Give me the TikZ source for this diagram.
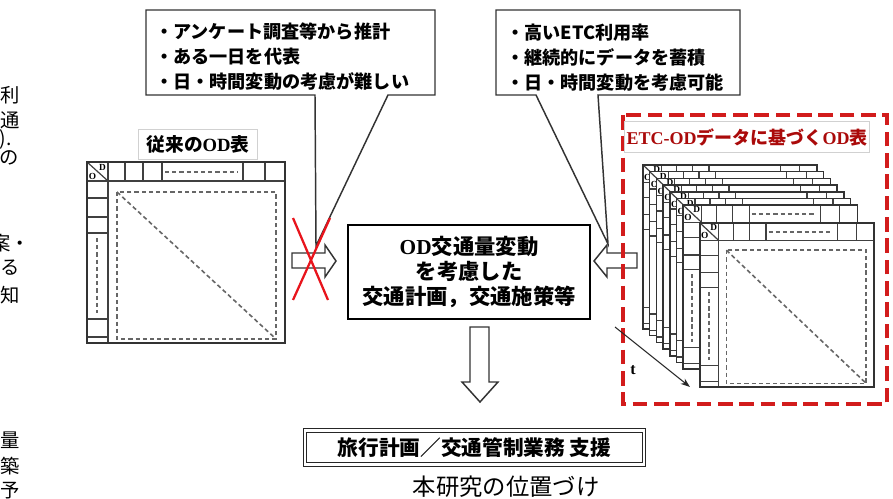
\documentclass[tikz,border=0pt]{standalone}
\usepackage{fontspec}
\newfontfamily\jp{Noto Sans CJK JP}
\newfontfamily\ser{Liberation Serif}
\usetikzlibrary{arrows.meta}
\newcommand\calloutfont{\jp\bfseries\fontsize{13.6pt}{18.75pt}\selectfont}
\newcommand\mainfont{\jp\bfseries\fontsize{16pt}{18.4pt}\selectfont}
\newcommand\marginfont{\jp\fontsize{14.5pt}{14.5pt}\selectfont}
\definecolor{xred}{RGB}{232,20,28}
\definecolor{boxred}{RGB}{210,28,28}
\definecolor{lblred}{RGB}{170,10,10}
\tikzset{
  tl/.style={draw=black!75,line width=0.9pt},
  dsh/.style={draw=black!60,line width=1.2pt,dash pattern=on 3.2pt off 2.2pt},
  bx/.style={draw=black!80,line width=1.1pt,fill=white,line join=miter},
  lbl/.style={draw=black!18,line width=0.6pt,fill=white,inner sep=0pt},
  odtable/.pic={
    \fill[white] (0,0) rectangle (198,181);
    \draw[tl] (0,19) -- (198,19);
    \draw[tl] (21,0) -- (21,181);
    \foreach \x in {38,56,75,156,178} \draw[tl] (\x,0) -- (\x,19);
    \foreach \y in {36,55,71,157,175} \draw[tl] (0,\y) -- (21,\y);
    \draw[dsh] (78,10) -- (151,10);
    \draw[dsh] (10,76) -- (10,151);
    \draw[dsh] (30,30) rectangle (189,177);
    \draw[dsh] (30,30) -- (189,177);
    \draw[tl] (0,0) -- (21,19);
    \node[font=\ser\bfseries\fontsize{7pt}{7pt}\selectfont,inner sep=0pt] (-o) at (5.5,14) {O};
    \node[font=\ser\bfseries\fontsize{7pt}{7pt}\selectfont,inner sep=0pt] (-d) at (15.5,5) {D};
    \draw[draw=black!80,line width=1.1pt] (0,0) rectangle (198,181);
  }
}
\begin{document}
\begin{tikzpicture}[x=0.75pt,y=-0.75pt]
\useasboundingbox (0,0) rectangle (893,499);

% margin fragments
\foreach \t/\yy/\xx/\n in {利/95/20/m1,通/120/20/m2,)./139/12/m3,の/158/19/m4,案・/243/30/m5,る/268/20/m6,知/295/20/m7,量/440/20/m8,築/466/20/m9,予/491/20/m10}
  \node[font=\marginfont,anchor=east,inner sep=0pt] (\n) at (\xx,\yy) {\t};

% left callout
\draw[bx] (146,10) -- (435,10) -- (435,95) -- (388,95) -- (316,246) -- (315,95) -- (146,95) -- cycle;
\node[font=\calloutfont,anchor=west,align=left,inner sep=0pt] (c1) at (155,57)
  {・アンケート調査等から推計\\・ある一日を代表\\・日・時間変動の考慮が難しい};

% right callout
\draw[bx] (496,10) -- (740,10) -- (740,95) -- (598,95) -- (608,244) -- (536,95) -- (496,95) -- cycle;
\node[font=\calloutfont,anchor=west,align=left,inner sep=0pt] (c2) at (506,58)
  {・高いETC利用率\\・継続的にデータを蓄積\\・日・時間変動を考慮可能};

% left table
\node[lbl,minimum width=89.25pt,minimum height=22.5pt] (lt) at (198,144)
  {\jp\bfseries\fontsize{14pt}{14pt}\selectfont 従来の{\ser\bfseries OD}表};
\pic (L) at (87,162) {odtable};

% block arrows
\draw[bx] (292,253) -- (325,253) -- (325,245) -- (336,261) -- (325,277) -- (325,268) -- (292,268) -- cycle;
\draw[bx] (637,253) -- (607,253) -- (607,245) -- (594,261) -- (607,277) -- (607,268) -- (637,268) -- cycle;
\draw[bx] (470,327) -- (489,327) -- (489,382) -- (498,382) -- (480,402) -- (462,382) -- (470,382) -- cycle;

% red cross
\draw[xred,line width=1.7pt] (293,218) -- (328,300);
\draw[xred,line width=1.7pt] (330,218) -- (293,300);

% central box
\node[draw=black,line width=1.6pt,fill=white,minimum width=181.5pt,minimum height=70.5pt,align=center,font=\mainfont,inner sep=0pt] (main) at (469,272)
  {{\ser\bfseries OD}交通量変動\\を考慮した\\交通計画，交通施策等};

% bottom box
\node[draw=black!85,line width=0.8pt,double=white,double distance=1.6pt,minimum width=254pt,minimum height=25.5pt,font=\jp\bfseries\fontsize{15.5pt}{15.5pt}\selectfont,inner sep=0pt] (sup) at (474.5,447.5)
  {旅行計画／交通管制業務\ 支援};
\node[font=\jp\fontsize{17.5pt}{17.5pt}\selectfont,inner sep=0pt] (cap) at (506,487) {本研究の位置づけ};

% right stack
\draw[boxred,line width=2.3pt,dash pattern=on 11pt off 5pt] (623,115) rectangle (887,404);
\node[lbl,minimum width=183.75pt,minimum height=23.25pt] (rt) at (747,137)
  {\fontsize{13.5pt}{13.5pt}\selectfont\color{lblred}{\ser\bfseries ETC-OD}{\jp\bfseries データに基づく}{\ser\bfseries OD}{\jp\bfseries 表}};
\foreach \k in {0,...,6}
  \pic[xscale=0.879,yscale=0.906] (B\k) at ({643+6.7*\k},{165+6.7*\k}) {odtable};
\pic[xscale=0.879,yscale=0.906] (F) at (700,223) {odtable};

\coordinate (t0) at (615,327);
\coordinate (t1) at (690,387);
\draw[black!85,line width=0.8pt,-{Stealth[length=7pt,width=5pt]}] (t0) -- (t1);
\node[font=\ser\bfseries\fontsize{12pt}{12pt}\selectfont,inner sep=0pt] (tl) at (633,370) {t};
\end{tikzpicture}
\end{document}
